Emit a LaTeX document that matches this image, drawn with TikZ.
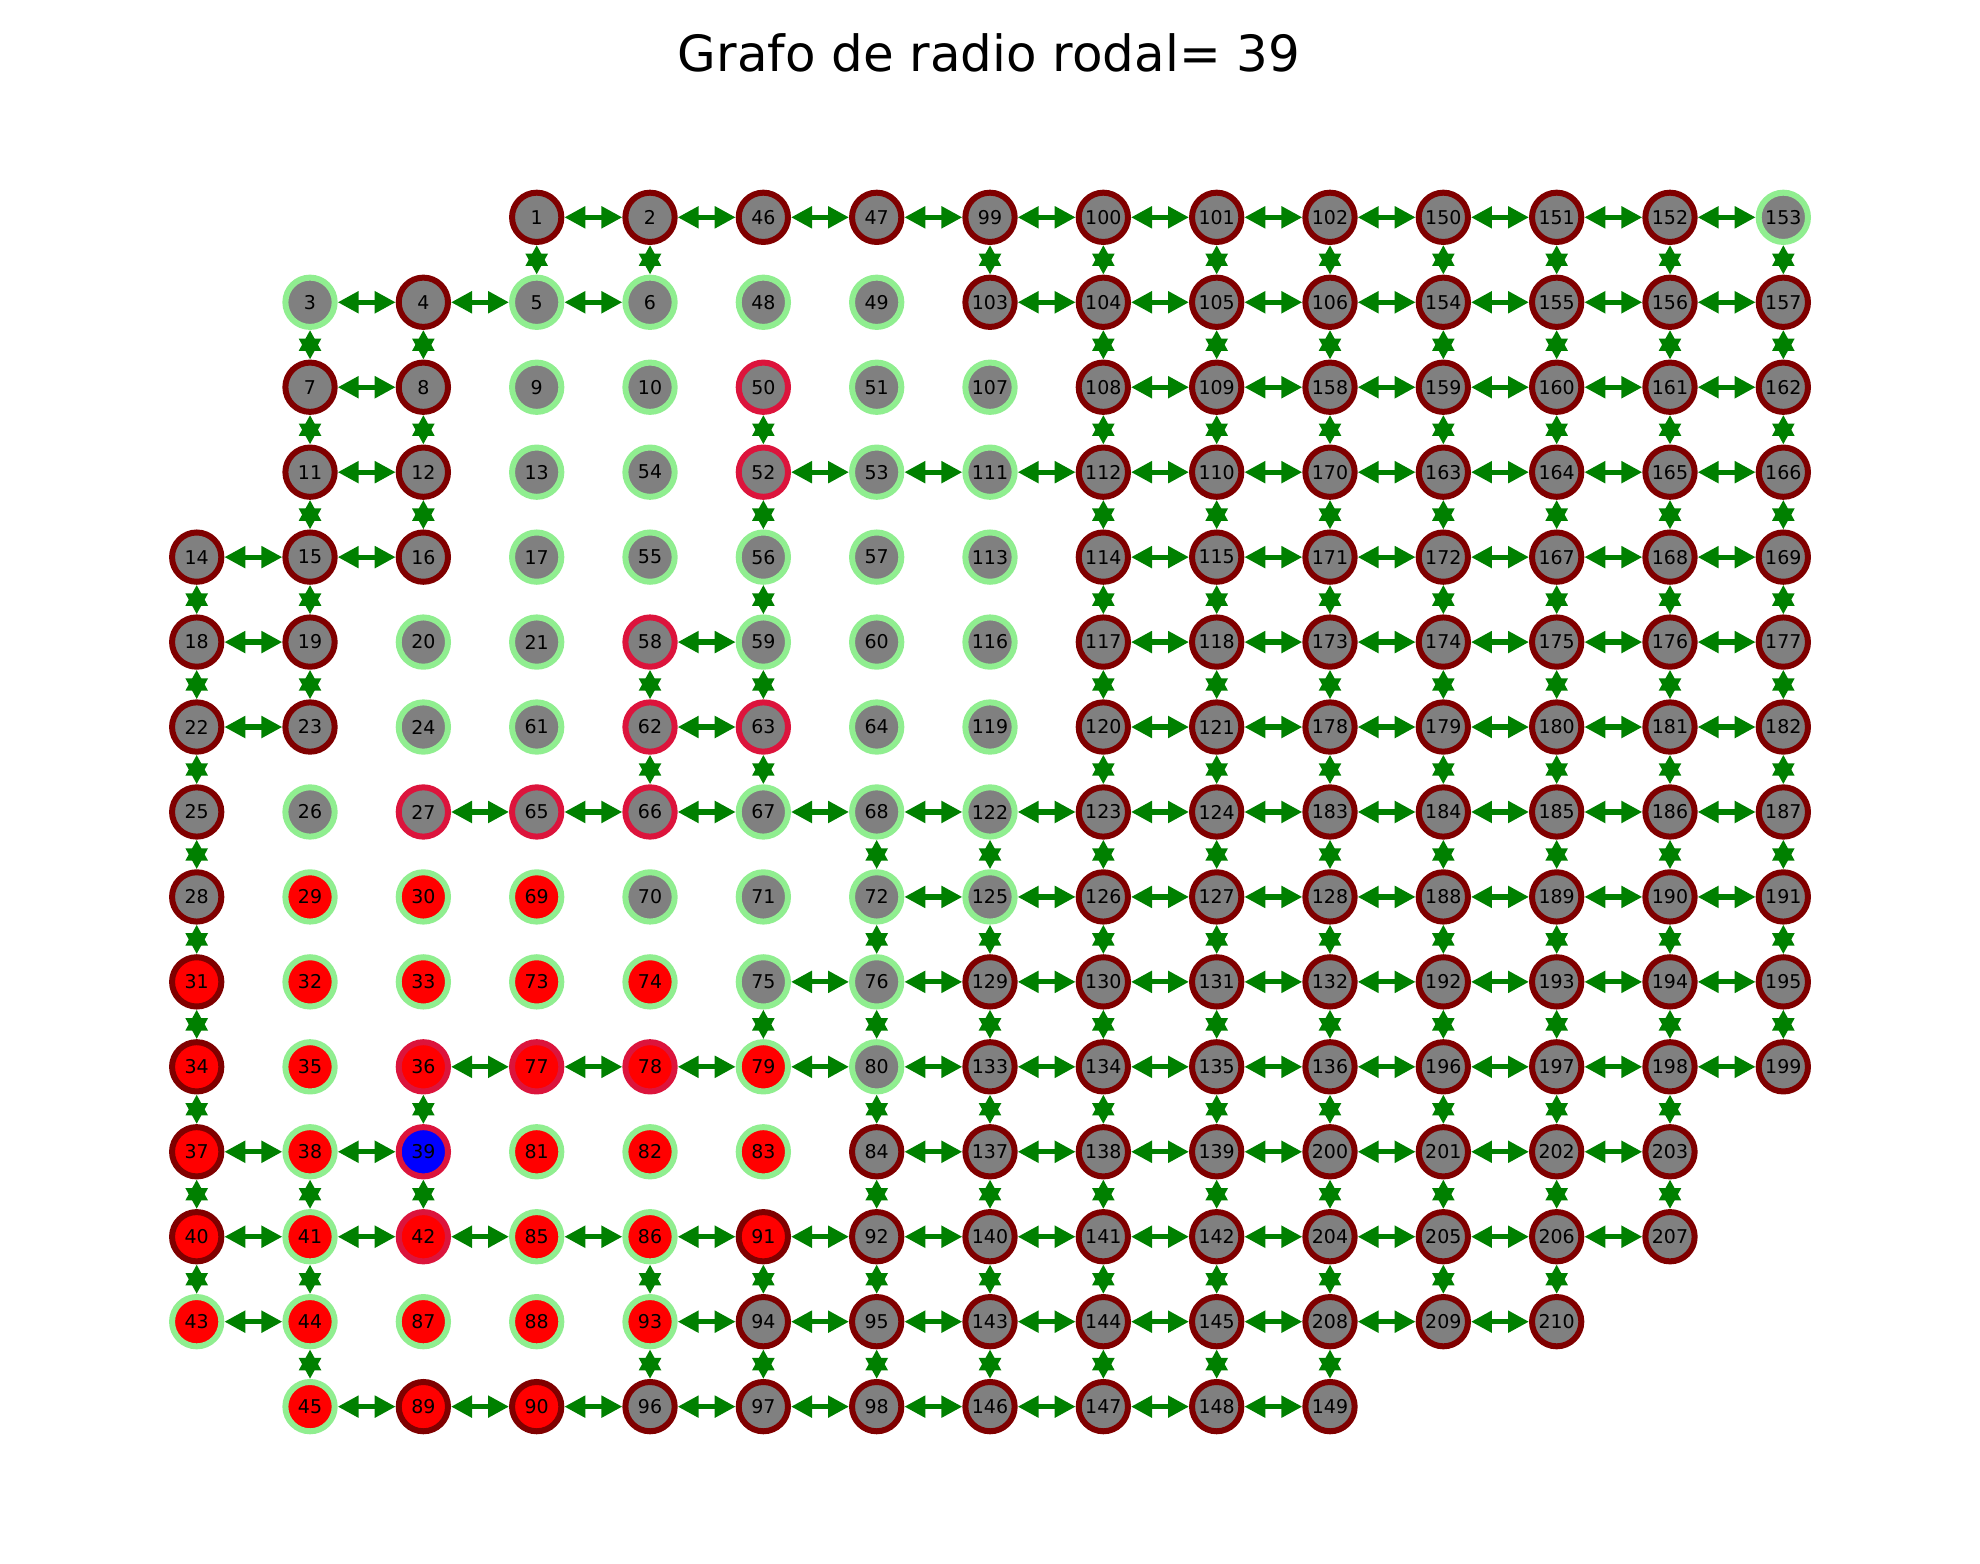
\documentclass[tikz,border=0pt]{standalone}
\usepackage{fontspec}
\setmainfont{DejaVu Sans}
\usetikzlibrary{arrows.meta}
\definecolor{granate}{RGB}{128,0,0}
\definecolor{verdeclaro}{RGB}{144,238,144}
\definecolor{carmesi}{RGB}{220,20,60}
\definecolor{gris}{RGB}{128,128,128}
\definecolor{rojo}{RGB}{255,0,0}
\definecolor{azul}{RGB}{0,0,255}
\definecolor{verde}{RGB}{0,128,0}
\tikzset{
  vtx/.style  ={circle, minimum size=0.493cm, inner sep=0pt,
                line width=0.06cm, text=black,
                font=\fontsize{5.4}{6}\selectfont},
  gm/.style   ={vtx, fill=gris, draw=granate},
  gg/.style   ={vtx, fill=gris, draw=verdeclaro},
  gc/.style   ={vtx, fill=gris, draw=carmesi},
  rm/.style   ={vtx, fill=rojo, draw=granate},
  rg/.style   ={vtx, fill=rojo, draw=verdeclaro},
  rc/.style   ={vtx, fill=rojo, draw=carmesi},
  bc/.style   ={vtx, fill=azul, draw=carmesi},
  link/.style ={{Triangle[length=0.21cm, width=0.21cm]}-{Triangle[length=0.21cm, width=0.21cm]},
                draw=verde, line width=0.052cm},
  titulo/.style={font=\fontsize{14.2}{17}\selectfont},
}

\begin{document}
\begin{tikzpicture}
\useasboundingbox (0,0) rectangle (19.8,-15.63);

\node[titulo] (tit) at (9.89,-0.53) {Grafo de radio rodal= 39};

\begin{scope}[shift={(1.967cm,-2.173cm)}, x=1.1333cm, y=-0.8495cm]

% gris / borde granate
\foreach \n/\c/\r in {1/3/0, 2/4/0, 46/5/0, 47/6/0, 99/7/0, 100/8/0, 101/9/0,
    102/10/0, 150/11/0, 151/12/0, 152/13/0,
    4/2/1, 103/7/1, 104/8/1, 105/9/1, 106/10/1, 154/11/1, 155/12/1, 156/13/1, 157/14/1,
    7/1/2, 8/2/2, 108/8/2, 109/9/2, 158/10/2, 159/11/2, 160/12/2, 161/13/2, 162/14/2,
    11/1/3, 12/2/3, 112/8/3, 110/9/3, 170/10/3, 163/11/3, 164/12/3, 165/13/3, 166/14/3,
    14/0/4, 15/1/4, 16/2/4, 114/8/4, 115/9/4, 171/10/4, 172/11/4, 167/12/4, 168/13/4, 169/14/4,
    18/0/5, 19/1/5, 117/8/5, 118/9/5, 173/10/5, 174/11/5, 175/12/5, 176/13/5, 177/14/5,
    22/0/6, 23/1/6, 120/8/6, 121/9/6, 178/10/6, 179/11/6, 180/12/6, 181/13/6, 182/14/6,
    25/0/7, 123/8/7, 124/9/7, 183/10/7, 184/11/7, 185/12/7, 186/13/7, 187/14/7,
    28/0/8, 126/8/8, 127/9/8, 128/10/8, 188/11/8, 189/12/8, 190/13/8, 191/14/8,
    129/7/9, 130/8/9, 131/9/9, 132/10/9, 192/11/9, 193/12/9, 194/13/9, 195/14/9,
    133/7/10, 134/8/10, 135/9/10, 136/10/10, 196/11/10, 197/12/10, 198/13/10, 199/14/10,
    84/6/11, 137/7/11, 138/8/11, 139/9/11, 200/10/11, 201/11/11, 202/12/11, 203/13/11,
    92/6/12, 140/7/12, 141/8/12, 142/9/12, 204/10/12, 205/11/12, 206/12/12, 207/13/12,
    94/5/13, 95/6/13, 143/7/13, 144/8/13, 145/9/13, 208/10/13, 209/11/13, 210/12/13,
    96/4/14, 97/5/14, 98/6/14, 146/7/14, 147/8/14, 148/9/14, 149/10/14}
  \node[gm] (n\n) at (\c,\r) {\n};

% gris / borde verde
\foreach \n/\c/\r in {153/14/0, 3/1/1, 5/3/1, 6/4/1, 48/5/1, 49/6/1,
    9/3/2, 10/4/2, 51/6/2, 107/7/2, 13/3/3, 54/4/3, 53/6/3, 111/7/3,
    17/3/4, 55/4/4, 56/5/4, 57/6/4, 113/7/4, 20/2/5, 21/3/5, 59/5/5, 60/6/5, 116/7/5,
    24/2/6, 61/3/6, 64/6/6, 119/7/6, 26/1/7, 67/5/7, 68/6/7, 122/7/7,
    70/4/8, 71/5/8, 72/6/8, 125/7/8, 75/5/9, 76/6/9, 80/6/10}
  \node[gg] (n\n) at (\c,\r) {\n};

% gris / borde carmesi
\foreach \n/\c/\r in {50/5/2, 52/5/3, 58/4/5, 62/4/6, 63/5/6, 27/2/7, 65/3/7, 66/4/7}
  \node[gc] (n\n) at (\c,\r) {\n};

% rojos
\foreach \n/\c/\r in {31/0/9, 34/0/10, 37/0/11, 40/0/12, 91/5/12, 89/2/14, 90/3/14}
  \node[rm] (n\n) at (\c,\r) {\n};
\foreach \n/\c/\r in {29/1/8, 30/2/8, 69/3/8, 32/1/9, 33/2/9, 73/3/9, 74/4/9,
    35/1/10, 79/5/10, 38/1/11, 81/3/11, 82/4/11, 83/5/11, 41/1/12, 85/3/12, 86/4/12,
    43/0/13, 44/1/13, 87/2/13, 88/3/13, 93/4/13, 45/1/14}
  \node[rg] (n\n) at (\c,\r) {\n};
\foreach \n/\c/\r in {36/2/10, 77/3/10, 78/4/10, 42/2/12}
  \node[rc] (n\n) at (\c,\r) {\n};
\node[bc] (n39) at (2,11) {39};

\end{scope}

% aristas horizontales
\foreach \a/\b in {1/2, 2/46, 46/47, 47/99, 99/100, 100/101, 101/102, 102/150,
    150/151, 151/152, 152/153,
    3/4, 4/5, 5/6, 103/104, 104/105, 105/106, 106/154, 154/155, 155/156, 156/157,
    7/8, 108/109, 109/158, 158/159, 159/160, 160/161, 161/162,
    11/12, 52/53, 53/111, 111/112, 112/110, 110/170, 170/163, 163/164, 164/165, 165/166,
    14/15, 15/16, 114/115, 115/171, 171/172, 172/167, 167/168, 168/169,
    18/19, 58/59, 117/118, 118/173, 173/174, 174/175, 175/176, 176/177,
    22/23, 62/63, 120/121, 121/178, 178/179, 179/180, 180/181, 181/182,
    27/65, 65/66, 66/67, 67/68, 68/122, 122/123, 123/124, 124/183, 183/184, 184/185,
    185/186, 186/187,
    72/125, 125/126, 126/127, 127/128, 128/188, 188/189, 189/190, 190/191,
    75/76, 76/129, 129/130, 130/131, 131/132, 132/192, 192/193, 193/194, 194/195,
    36/77, 77/78, 78/79, 79/80, 80/133, 133/134, 134/135, 135/136, 136/196, 196/197,
    197/198, 198/199,
    37/38, 38/39, 84/137, 137/138, 138/139, 139/200, 200/201, 201/202, 202/203,
    40/41, 41/42, 42/85, 85/86, 86/91, 91/92, 92/140, 140/141, 141/142, 142/204,
    204/205, 205/206, 206/207,
    43/44, 93/94, 94/95, 95/143, 143/144, 144/145, 145/208, 208/209, 209/210,
    45/89, 89/90, 90/96, 96/97, 97/98, 98/146, 146/147, 147/148, 148/149}
  \draw[link] (n\a) -- (n\b);

% aristas verticales
\foreach \a/\b in {14/18, 18/22, 22/25, 25/28, 28/31, 31/34, 34/37, 37/40, 40/43,
    3/7, 7/11, 11/15, 15/19, 19/23, 38/41, 41/44, 44/45,
    4/8, 8/12, 12/16, 36/39, 39/42,
    1/5, 2/6, 58/62, 62/66, 86/93, 93/96,
    50/52, 52/56, 56/59, 59/63, 63/67, 75/79, 91/94, 94/97,
    68/72, 72/76, 76/80, 80/84, 84/92, 92/95, 95/98,
    99/103, 122/125, 125/129, 129/133, 133/137, 137/140, 140/143, 143/146,
    100/104, 104/108, 108/112, 112/114, 114/117, 117/120, 120/123, 123/126, 126/130,
    130/134, 134/138, 138/141, 141/144, 144/147,
    101/105, 105/109, 109/110, 110/115, 115/118, 118/121, 121/124, 124/127, 127/131,
    131/135, 135/139, 139/142, 142/145, 145/148,
    102/106, 106/158, 158/170, 170/171, 171/173, 173/178, 178/183, 183/128, 128/132,
    132/136, 136/200, 200/204, 204/208, 208/149,
    150/154, 154/159, 159/163, 163/172, 172/174, 174/179, 179/184, 184/188, 188/192,
    192/196, 196/201, 201/205, 205/209,
    151/155, 155/160, 160/164, 164/167, 167/175, 175/180, 180/185, 185/189, 189/193,
    193/197, 197/202, 202/206, 206/210,
    152/156, 156/161, 161/165, 165/168, 168/176, 176/181, 181/186, 186/190, 190/194,
    194/198, 198/203, 203/207,
    153/157, 157/162, 162/166, 166/169, 169/177, 177/182, 182/187, 187/191, 191/195,
    195/199}
  \draw[link] (n\a) -- (n\b);

\end{tikzpicture}
\end{document}
